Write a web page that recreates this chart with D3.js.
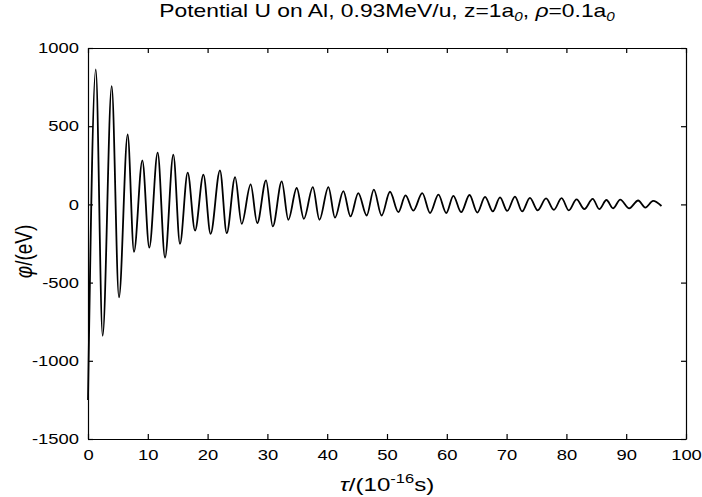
<!DOCTYPE html>
<html>
<head>
<meta charset="utf-8">
<script src="https://cdn.jsdelivr.net/npm/d3@7"></script>
<style>
  body { margin: 0; background: #fff; }
  text { font-family: "Liberation Sans", Arial, Helvetica, sans-serif; fill: #000; }
</style>
</head>
<body>
<svg id="chart" width="702" height="497"></svg>
<script>
// extrema of the curve (tau in 1e-16 s, phi in eV)
var tauPoints = [0, 1.3, 2.45, 3.96, 5.18, 6.63, 7.69, 9.09, 10.25, 11.65, 12.88, 14.27, 15.38,
    16.67, 17.9, 19.3, 20.5, 22.07, 23.2, 24.6, 25.7, 27.2, 28.3, 29.77, 30.9, 32.4, 33.5,
    34.9, 36.1, 37.6, 38.7, 40.2, 41.3, 42.7, 43.9, 45.2, 46.6, 47.8, 49.1, 50.5, 51.9,
    53.1, 54.4, 55.9, 57.2, 58.6, 59.9, 61.1, 62.4, 63.8, 65.1, 66.4, 67.7, 68.9, 70.1,
    71.4, 72.6, 73.9, 75.2, 76.6, 77.9, 79.2, 80.4, 81.7, 83.0, 84.4, 85.5, 86.7, 87.8,
    89.0, 90.5, 92.0, 93.2, 94.5, 95.9];
var phiPoints = [-1250, 863, -840, 756, -594, 447, -303, 282, -276, 331, -340, 318, -252,
    203, -167, 190, -188, 218, -184, 175, -124, 128, -120, 154, -141, 147, -98,
    105, -92, 111, -98, 111, -85, 85, -77, 72, -71, 94, -71, 81, -49,
    58, -40, 72, -55, 62, -55, 55, -50, 60, -52, 48, -45, 45, -42,
    50, -45, 42, -38, 38, -35, 40, -38, 32, -30, 35, -30, 28, -25,
    30, -25, 25, -20, 22, -10];

var xTicks = [0, 10, 20, 30, 40, 50, 60, 70, 80, 90, 100];
var yTicks = [-1500, -1000, -500, 0, 500, 1000];

// the scanned figure is stretched sideways, so the glyphs are too
var SX = 1.27;

var svg = d3.select("#chart");
var margin = {top: 48, right: 16, bottom: 58, left: 88},
    width = 702 - margin.left - margin.right,
    height = 497 - margin.top - margin.bottom;

var x = d3.scaleLinear().domain([0, 100]).range([0, width]);
var y = d3.scaleLinear().domain([-1500, 1000]).range([height, 0]);

var g = svg.append("g").attr("transform", "translate(" + margin.left + "," + margin.top + ")");

var data = tauPoints.map(function (t, i) { return {t: t, v: phiPoints[i]}; });

var line = d3.line()
    .x(function (d) { return x(d.t); })
    .y(function (d) { return y(d.v); })
    .curve(d3.curveMonotoneX);

g.append("path")
    .datum(data)
    .attr("fill", "none")
    .attr("stroke", "#000")
    .attr("stroke-width", 1.8)
    .attr("d", line);

function styleAxis(sel) {
    sel.selectAll("path, line").attr("stroke", "#000").attr("stroke-width", 1.2);
    sel.selectAll("text").style("font-size", "14.5px").attr("fill", "#000");
}
var fmt = function (d) { return String(d); };

var xAxisG = g.append("g").attr("transform", "translate(0," + height + ")")
    .call(d3.axisBottom(x).tickValues(xTicks).tickFormat(fmt).tickSizeInner(-5).tickSizeOuter(0).tickPadding(11))
    .call(styleAxis);
xAxisG.selectAll("text").attr("transform", "scale(" + SX + ",1)");

g.append("g")
    .call(d3.axisTop(x).tickValues(xTicks).tickSizeInner(-5).tickSizeOuter(0).tickFormat(""))
    .call(styleAxis);

var yAxisG = g.append("g")
    .call(d3.axisLeft(y).tickValues(yTicks).tickFormat(fmt).tickSizeInner(-5).tickSizeOuter(0))
    .call(styleAxis);
yAxisG.selectAll("text").attr("x", -9 / SX).attr("transform", "scale(" + SX + ",1)");

g.append("g").attr("transform", "translate(" + width + ",0)")
    .call(d3.axisRight(y).tickValues(yTicks).tickSizeInner(-5).tickSizeOuter(0).tickFormat(""))
    .call(styleAxis);
g.selectAll(".domain").attr("fill", "none");

// title
var title = svg.append("text")
    .attr("transform", "translate(" + (margin.left + width / 2) + ",17) scale(" + SX + ",1)")
    .attr("text-anchor", "middle")
    .style("font-size", "18px");
title.append("tspan").text("Potential U on Al, 0.93MeV/u, z=1a");
title.append("tspan").attr("dy", 4).style("font-size", "12px").style("font-style", "italic").text("0");
title.append("tspan").attr("dy", -4).text(", ");
title.append("tspan").style("font-style", "italic").text("\u03c1");
title.append("tspan").text("=0.1a");
title.append("tspan").attr("dy", 4).style("font-size", "12px").style("font-style", "italic").text("0");

// x label
var xl = svg.append("text")
    .attr("transform", "translate(" + (margin.left + width / 2) + ",491) scale(" + SX + ",1)")
    .attr("text-anchor", "middle")
    .style("font-size", "19px");
xl.append("tspan").style("font-style", "italic").text("\u03c4");
xl.append("tspan").text("/(10");
xl.append("tspan").attr("dy", -8).style("font-size", "13px").text("-16");
xl.append("tspan").attr("dy", 8).text("s)");

// y label
var yl = svg.append("text")
    .attr("transform", "translate(32," + (margin.top + height / 2 + 8) + ") rotate(-90) scale(1," + SX + ")")
    .attr("text-anchor", "middle")
    .style("font-size", "19px");
yl.append("tspan").style("font-style", "italic").text("\u03c6");
yl.append("tspan").text("/(eV)");
</script>
</body>
</html>
